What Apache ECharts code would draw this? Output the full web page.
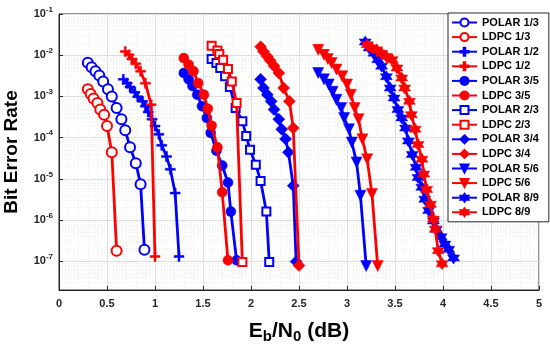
<!DOCTYPE html>
<html><head><meta charset="utf-8">
<script src="https://cdn.jsdelivr.net/npm/echarts@6/dist/echarts.min.js"></script>
<style>html,body{margin:0;padding:0;background:#fff}#c{width:550px;height:349px}</style>
</head><body><div id="c"></div>
<script>
// ---- data (Eb/N0 in dB, bit error rate) ----
const seriesNames = ['POLAR 1/3','LDPC 1/3','POLAR 1/2','LDPC 1/2','POLAR 3/5','LDPC 3/5','POLAR 2/3','LDPC 2/3','POLAR 3/4','LDPC 3/4','POLAR 5/6','LDPC 5/6','POLAR 8/9','LDPC 8/9'];
const xTickLabels = ['0','0.5','1','1.5','2','2.5','3','3.5','4','4.5','5'];

const snrPolar13 = [0.30,0.34,0.38,0.42,0.46,0.51,0.55,0.60,0.65,0.69,0.74,0.80,0.85,0.89];
const berPolar13 = [6.6e-3,5.1e-3,4.1e-3,3.2e-3,2.3e-3,1.5e-3,1.0e-3,5.2e-4,2.8e-4,1.5e-4,5.8e-5,2.4e-5,7.4e-6,1.9e-7];
const snrLdpc13 = [0.30,0.33,0.36,0.40,0.43,0.47,0.50,0.55,0.60];
const berLdpc13 = [1.5e-3,1.15e-3,8.9e-4,6.9e-4,4.8e-4,3.6e-4,1.9e-4,4.4e-5,1.8e-7];
const snrPolar12 = [0.67,0.71,0.74,0.79,0.82,0.87,0.90,0.93,0.97,1.00,1.04,1.07,1.12,1.16,1.21,1.25];
const berPolar12 = [2.6e-3,2.1e-3,1.7e-3,1.26e-3,9.8e-4,7.6e-4,5.8e-4,4.2e-4,2.8e-4,1.9e-4,1.2e-4,6.5e-5,3.5e-5,1.7e-5,4.5e-6,1.3e-7];
const snrLdpc12 = [0.69,0.73,0.76,0.80,0.85,0.90,0.96,1.00];
const berLdpc12 = [1.23e-2,1.02e-2,8.1e-3,6.2e-3,4.1e-3,2.1e-3,6.3e-4,1.3e-7];
const snrPolar35 = [1.30,1.35,1.39,1.44,1.49,1.54,1.58,1.64,1.70,1.76,1.79,1.85];
const berPolar35 = [3.7e-3,2.6e-3,1.8e-3,1.1e-3,5.8e-4,3.0e-4,1.3e-4,4.8e-5,2.1e-5,8.1e-6,1.6e-6,1.05e-7];
const snrLdpc35 = [1.30,1.35,1.40,1.45,1.51,1.55,1.59,1.65,1.70,1.76];
const berLdpc35 = [8.5e-3,5.9e-3,4.1e-3,2.1e-3,1.1e-3,5.0e-4,1.95e-4,5.8e-5,4.7e-6,1.05e-7];
const snrPolar23 = [1.59,1.64,1.68,1.73,1.78,1.84,1.91,1.95,1.99,2.05,2.10,2.16,2.19];
const berPolar23 = [8.1e-3,6.5e-3,4.9e-3,3.1e-3,1.7e-3,5.2e-4,2.5e-4,1.1e-4,5.1e-5,2.2e-5,8.9e-6,1.6e-6,9.5e-8];
const snrLdpc23 = [1.59,1.65,1.67,1.71,1.76,1.80,1.85,1.91];
const berLdpc23 = [1.7e-2,1.3e-2,1.07e-2,7.8e-3,4.6e-3,2.3e-3,6.9e-4,9.5e-8];
const snrPolar34 = [2.10,2.13,2.17,2.21,2.24,2.29,2.32,2.36,2.39,2.44,2.47];
const berPolar34 = [2.6e-3,1.6e-3,1.1e-3,7.6e-4,4.8e-4,2.8e-4,1.6e-4,9.3e-5,4.4e-5,6.8e-6,9.8e-8];
const snrLdpc34 = [2.10,2.13,2.17,2.20,2.24,2.29,2.34,2.40,2.44,2.50];
const berLdpc34 = [1.6e-2,1.23e-2,9.3e-3,7.4e-3,5.5e-3,3.7e-3,1.6e-3,7.6e-4,1.7e-4,7.9e-8];
const snrPolar56 = [2.70,2.76,2.81,2.85,2.89,2.94,2.97,3.02,3.05,3.10,3.14,3.20];
const berPolar56 = [3.7e-3,2.6e-3,1.95e-3,1.3e-3,8.3e-4,5.2e-4,3.0e-4,1.6e-4,7.6e-5,2.5e-5,3.9e-6,7.6e-8];
const snrLdpc56 = [2.70,2.76,2.80,2.84,2.89,2.95,3.00,3.04,3.08,3.12,3.16,3.21,3.26,3.32];
const berLdpc56 = [1.35e-2,1.02e-2,8.1e-3,6.5e-3,4.5e-3,3.1e-3,1.95e-3,1.1e-3,5.2e-4,2.8e-4,9.1e-5,3.0e-5,4.3e-6,7.6e-8];
const snrPolar89 = [3.19,3.23,3.28,3.32,3.36,3.41,3.45,3.49,3.53,3.57,3.61,3.64,3.68,3.72,3.74,3.78,3.81,3.85,3.90,3.93,3.98,4.02,4.06,4.11];
const berPolar89 = [2.1e-2,1.5e-2,1.12e-2,7.8e-3,5.4e-3,3.0e-3,1.6e-3,9.1e-4,4.8e-4,3.0e-4,1.7e-4,8.3e-5,3.9e-5,1.9e-5,1.07e-5,6.2e-6,3.2e-6,1.7e-6,9.5e-7,6.0e-7,3.9e-7,2.6e-7,1.95e-7,1.2e-7];
const snrLdpc89 = [3.21,3.26,3.31,3.36,3.41,3.47,3.52,3.57,3.60,3.65,3.67,3.71,3.74,3.78,3.80,3.83,3.87,3.90,3.92,3.95,3.99];
const berLdpc89 = [1.8e-2,1.5e-2,1.35e-2,1.12e-2,9.3e-3,7.8e-3,4.9e-3,2.8e-3,1.6e-3,7.6e-4,3.6e-4,1.6e-4,6.8e-5,3.0e-5,1.3e-5,5.5e-6,2.4e-6,1.05e-6,6.0e-7,1.8e-7,8.7e-8];

const snrData = [snrPolar13,snrLdpc13,snrPolar12,snrLdpc12,snrPolar35,snrLdpc35,snrPolar23,snrLdpc23,snrPolar34,snrLdpc34,snrPolar56,snrLdpc56,snrPolar89,snrLdpc89];
const berData = [berPolar13,berLdpc13,berPolar12,berLdpc12,berPolar35,berLdpc35,berPolar23,berLdpc23,berPolar34,berLdpc34,berPolar56,berLdpc56,berPolar89,berLdpc89];

// ---- styles ----
const BLUE = '#0000ff', RED = '#ff0000';
function hexagram() {
  let p = '';
  for (let k = 0; k < 12; k++) {
    const a = (-90 + 30 * k) * Math.PI / 180;
    const r = k % 2 === 0 ? 10 : 5.8;
    p += (k === 0 ? 'M' : 'L') + (10 + r * Math.cos(a)).toFixed(2) + ',' + (10 + r * Math.sin(a)).toFixed(2);
  }
  return 'path://' + p + 'Z';
}
const PLUS = 'path://M4,0H6V4H10V6H6V10H4V6H0V4H4Z';
const STAR = hexagram();
const markerStyles = [
  {symbol:'emptyCircle', size:10}, {symbol:'emptyCircle', size:10},
  {symbol:PLUS, size:10}, {symbol:PLUS, size:10},
  {symbol:'circle', size:10}, {symbol:'circle', size:10},
  {symbol:'emptyRect', size:8}, {symbol:'emptyRect', size:8},
  {symbol:'diamond', size:12}, {symbol:'diamond', size:12},
  {symbol:'triangle', size:11, rotate:180}, {symbol:'triangle', size:11, rotate:180},
  {symbol:STAR, size:12}, {symbol:STAR, size:12}
];

const series = seriesNames.map((name, i) => {
  const color = i % 2 === 0 ? BLUE : RED;
  const m = markerStyles[i];
  return {
    type: 'line', name: name,
    data: snrData[i].map((x, j) => [x, berData[i][j]]),
    symbol: m.symbol, symbolSize: m.size, symbolRotate: m.rotate || 0,
    showAllSymbol: true,
    lineStyle: {color: color, width: 2.8},
    itemStyle: {color: color, borderColor: color, borderWidth: m.symbol.startsWith('empty') ? 2 : 0.5},
    emphasis: {disabled: true},
    z: 2 + i
  };
});

const FONT = '"Liberation Sans", Arial, sans-serif';
const chart = echarts.init(document.getElementById('c'), null, {renderer: 'canvas'});
chart.setOption({
  animation: false,
  backgroundColor: '#fff',
  grid: {left: 59, right: 11, top: 14, bottom: 59, show: true, borderColor: '#262626', borderWidth: 1,
    containLabel: false, outerBoundsMode: 'none'},
  legend: {
    data: seriesNames, orient: 'vertical', left: 448, top: 13,
    itemWidth: 25, itemHeight: 10, itemGap: 3.6,
    padding: [4, 10, 4, 3],
    backgroundColor: '#fff', borderColor: '#262626', borderWidth: 1,
    textStyle: {fontFamily: FONT, fontWeight: 'bold', fontSize: 11, color: '#000'}
  },
  xAxis: {
    type: 'value', min: 0, max: 5, interval: 0.5,
    axisLine: {show: true, lineStyle: {color: '#262626'}},
    axisTick: {inside: true, length: 4, lineStyle: {color: '#262626'}},
    axisLabel: {fontFamily: FONT, fontWeight: 'bold', fontSize: 11, color: '#262626', margin: 8,
      formatter: v => xTickLabels[Math.round(v / 0.5)] ?? ''},
    splitLine: {show: true, lineStyle: {color: '#dedede', width: 1}},
    minorTick: {show: false, splitNumber: 5},
    minorSplitLine: {show: true, lineStyle: {color: '#eeeeee', type: [1, 2]}},
    name: '{n|E}{sub|b}{n|/N}{sub|0}{n| (dB)}',
    nameLocation: 'middle', nameGap: 28,
    nameTextStyle: {rich: {
      n: {fontFamily: FONT, fontWeight: 'bold', fontSize: 21, color: '#000'},
      sub: {fontFamily: FONT, fontWeight: 'bold', fontSize: 15, color: '#000', padding: [11, 0, 0, 0]}
    }}
  },
  yAxis: {
    type: 'log', logBase: 10, min: 2e-8, max: 0.1, splitNumber: 7,
    axisLine: {show: true, lineStyle: {color: '#262626'}},
    axisTick: {inside: true, length: 4, lineStyle: {color: '#262626'}},
    axisLabel: {
      fontFamily: FONT, margin: 6,
      formatter: v => {
        const e = Math.log10(v);
        if (Math.abs(e - Math.round(e)) > 1e-6) return '';
        return '{b|10}{s|' + Math.round(e) + '}';
      },
      rich: {
        b: {fontFamily: FONT, fontWeight: 'bold', fontSize: 11, color: '#262626'},
        s: {fontFamily: FONT, fontWeight: 'bold', fontSize: 8, color: '#262626', padding: [0, 0, 9, 0]}
      }
    },
    splitLine: {show: true, lineStyle: {color: '#dedede', width: 1}},
    minorTick: {show: false, splitNumber: 9},
    minorSplitLine: {show: true, lineStyle: {color: '#eeeeee', type: [1, 2]}},
    name: 'Bit Error Rate', nameLocation: 'middle', nameGap: 38,
    nameTextStyle: {fontFamily: FONT, fontWeight: 'bold', fontSize: 19, color: '#000'}
  },
  series: series
});
</script></body></html>
